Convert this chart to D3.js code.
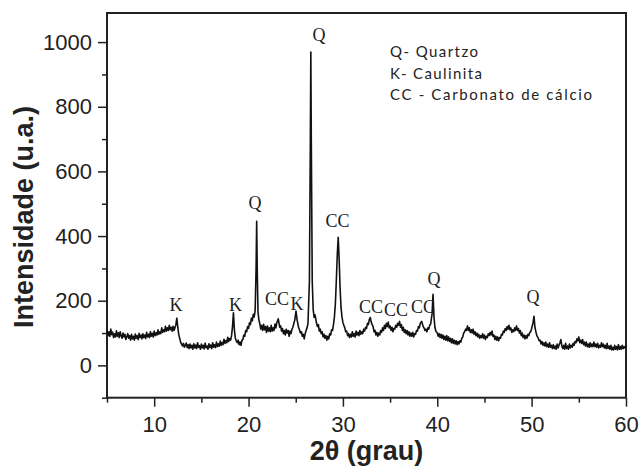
<!DOCTYPE html>
<html>
<head>
<meta charset="utf-8">
<script src="https://cdn.jsdelivr.net/npm/d3@7"></script>
<style>
  body { margin: 0; background: #fff; }
  svg { display: block; }
</style>
</head>
<body>
<svg width="643" height="467"></svg>
<script>
// diffractogram: [2theta, intensity]
var pattern = [
  [5.0,108],[5.1,92],[5.2,104],[5.3,90],[5.4,112],[5.5,95],[5.6,103],[5.7,86],[5.8,98],[5.9,88],
  [6.0,107],[6.1,90],[6.2,101],[6.3,86],[6.4,104],[6.5,92],[6.6,84],[6.7,100],[6.8,88],[6.9,96],
  [7.0,80],[7.2,98],[7.3,84],[7.4,92],[7.5,78],[7.6,96],[7.7,82],[7.8,90],[7.9,78],[8.0,97],
  [8.1,84],[8.2,92],[8.3,80],[8.4,99],[8.5,86],[8.6,94],[8.7,82],[8.8,98],[8.9,86],[9.0,94],
  [9.1,83],[9.2,102],[9.3,88],[9.4,96],[9.5,86],[9.6,104],[9.7,90],[9.8,99],[9.9,88],[10.0,106],
  [10.1,92],[10.2,101],[10.3,94],[10.4,110],[10.5,96],[10.6,104],[10.7,98],[10.8,116],[10.9,102],[11.0,110],
  [11.1,104],[11.2,121],[11.3,106],[11.4,116],[11.5,108],[11.6,124],[11.7,110],[11.8,118],[11.9,106],[12.0,121],
  [12.1,108],[12.2,116],[12.3,126],[12.4,146],[12.5,118],[12.6,96],[12.7,84],[12.8,72],[12.9,66],[13.0,60],
  [13.1,68],[13.2,56],[13.4,69],[13.5,55],[13.6,64],[13.7,52],[13.8,66],[13.9,54],[14.0,62],[14.1,50],
  [14.2,67],[14.3,54],[14.4,63],[14.5,52],[14.6,70],[14.7,56],[14.8,61],[14.9,50],[15.0,66],[15.1,54],
  [15.2,62],[15.3,51],[15.4,69],[15.5,55],[15.6,60],[15.7,50],[15.8,67],[15.9,55],[16.0,63],[16.1,52],
  [16.2,70],[16.3,56],[16.4,64],[16.5,55],[16.6,72],[16.7,58],[16.8,67],[16.9,59],[17.0,75],[17.1,62],
  [17.2,71],[17.3,64],[17.4,81],[17.5,68],[17.6,77],[17.7,70],[17.8,87],[17.9,74],[18.0,83],[18.1,78],
  [18.2,92],[18.3,120],[18.4,163],[18.5,110],[18.6,84],[18.7,76],[18.8,70],[18.9,78],[19.0,64],[19.1,72],
  [19.2,62],[19.3,78],[19.4,80],[19.5,94],[19.6,90],[19.7,108],[19.8,104],[19.9,120],[20.0,114],[20.1,132],
  [20.2,126],[20.3,146],[20.4,138],[20.5,158],[20.6,150],[20.7,170],[20.8,300],[20.86,446],[20.92,300],[21.0,165],
  [21.1,140],[21.2,128],[21.3,112],[21.4,124],[21.5,108],[21.6,127],[21.7,110],[21.8,120],[21.9,102],[22.0,122],
  [22.1,106],[22.2,116],[22.3,104],[22.4,124],[22.5,106],[22.6,116],[22.7,108],[22.8,128],[22.9,116],[23.0,132],
  [23.15,144],[23.3,118],[23.4,122],[23.5,106],[23.6,114],[23.7,98],[23.8,108],[23.9,94],[24.0,112],[24.1,100],
  [24.2,108],[24.3,90],[24.4,106],[24.5,98],[24.6,112],[24.7,118],[24.8,130],[24.9,140],[25.03,168],[25.15,140],
  [25.3,118],[25.4,110],[25.5,100],[25.6,104],[25.7,90],[25.8,96],[25.9,82],[26.0,98],[26.1,108],[26.2,116],
  [26.3,130],[26.45,260],[26.55,700],[26.6,969],[26.65,700],[26.75,260],[26.85,173],[26.95,148],[27.05,156],[27.2,131],
  [27.3,120],[27.4,126],[27.5,106],[27.6,112],[27.7,98],[27.8,104],[27.9,88],[28.0,96],[28.1,84],[28.2,92],
  [28.3,78],[28.4,90],[28.5,82],[28.6,98],[28.7,94],[28.8,110],[28.9,108],[29.0,126],[29.1,150],[29.2,190],
  [29.3,260],[29.4,340],[29.5,396],[29.6,330],[29.7,240],[29.8,180],[29.9,150],[30.0,133],[30.1,124],[30.2,116],
  [30.3,104],[30.4,106],[30.5,92],[30.6,98],[30.7,86],[30.8,96],[30.9,88],[31.0,104],[31.1,90],[31.2,98],
  [31.3,88],[31.4,106],[31.5,94],[31.6,102],[31.7,92],[31.8,108],[31.9,96],[32.0,104],[32.1,98],[32.2,112],
  [32.3,106],[32.4,118],[32.5,114],[32.6,130],[32.7,126],[32.8,142],[32.9,148],[33.0,134],[33.1,126],[33.2,120],
  [33.3,104],[33.4,108],[33.5,94],[33.6,102],[33.7,90],[33.8,100],[33.9,94],[34.0,108],[34.1,102],[34.2,116],
  [34.3,108],[34.4,124],[34.5,114],[34.6,130],[34.7,120],[34.8,134],[34.9,116],[35.0,122],[35.1,108],[35.2,118],
  [35.3,104],[35.4,114],[35.5,112],[35.6,124],[35.7,118],[35.8,130],[35.9,124],[36.0,136],[36.1,118],[36.2,126],
  [36.3,108],[36.4,118],[36.5,102],[36.6,110],[36.7,98],[36.8,108],[36.9,94],[37.0,104],[37.1,90],[37.2,100],
  [37.3,90],[37.4,102],[37.5,88],[37.6,98],[37.7,96],[37.8,108],[37.9,106],[38.0,120],[38.1,116],[38.2,130],
  [38.35,136],[38.5,120],[38.6,116],[38.7,108],[38.8,112],[38.9,104],[39.0,116],[39.1,112],[39.2,124],[39.3,128],
  [39.45,160],[39.55,220],[39.65,150],[39.75,118],[39.85,106],[40.0,100],[40.1,90],[40.2,98],[40.3,86],[40.4,96],
  [40.5,84],[40.6,94],[40.7,80],[40.8,90],[40.9,78],[41.0,92],[41.1,76],[41.2,88],[41.3,74],[41.4,84],
  [41.5,70],[41.6,82],[41.7,68],[41.8,78],[41.9,66],[42.0,76],[42.1,64],[42.2,74],[42.3,66],[42.4,76],
  [42.5,72],[42.6,84],[42.7,88],[42.8,100],[42.9,104],[43.0,112],[43.1,108],[43.2,122],[43.3,108],[43.4,116],
  [43.5,102],[43.6,110],[43.7,100],[43.8,112],[43.9,96],[44.0,104],[44.1,92],[44.2,100],[44.3,88],[44.4,96],
  [44.5,84],[44.6,92],[44.7,86],[44.8,98],[44.9,84],[45.0,94],[45.1,80],[45.2,90],[45.3,86],[45.4,98],
  [45.5,92],[45.6,102],[45.7,94],[45.8,106],[45.9,90],[46.0,94],[46.1,80],[46.2,90],[46.3,78],[46.4,88],
  [46.5,76],[46.6,86],[46.7,84],[46.8,96],[46.9,94],[47.0,106],[47.1,102],[47.2,114],[47.3,108],[47.4,120],
  [47.5,112],[47.6,124],[47.7,110],[47.8,116],[47.9,102],[48.0,110],[48.1,104],[48.2,116],[48.3,108],[48.4,122],
  [48.5,108],[48.6,114],[48.7,100],[48.8,108],[48.9,92],[49.0,100],[49.1,86],[49.2,94],[49.3,82],[49.4,92],
  [49.5,84],[49.6,96],[49.7,92],[49.8,102],[49.9,104],[50.0,114],[50.15,132],[50.25,152],[50.35,118],[50.45,104],
  [50.55,92],[50.7,84],[50.8,76],[50.9,78],[51.0,66],[51.1,74],[51.2,62],[51.3,70],[51.4,60],[51.5,72],
  [51.6,58],[51.7,66],[51.8,56],[51.9,70],[52.0,56],[52.1,62],[52.2,52],[52.3,64],[52.4,52],[52.5,60],
  [52.6,50],[52.7,66],[52.8,54],[52.9,62],[53.0,70],[53.1,80],[53.2,60],[53.3,52],[53.4,62],[53.5,50],
  [53.6,68],[53.7,52],[53.8,60],[53.9,50],[54.0,66],[54.1,54],[54.2,62],[54.3,56],[54.4,68],[54.5,62],
  [54.6,74],[54.7,70],[54.8,82],[54.9,76],[55.0,88],[55.1,70],[55.2,78],[55.3,68],[55.4,80],[55.5,64],
  [55.6,72],[55.7,60],[55.8,72],[55.9,58],[56.0,66],[56.1,56],[56.2,70],[56.3,58],[56.4,66],[56.5,58],
  [56.6,72],[56.7,58],[56.8,66],[56.9,56],[57.0,68],[57.1,54],[57.2,62],[57.3,56],[57.4,70],[57.5,58],
  [57.6,66],[57.7,54],[57.8,62],[57.9,52],[58.0,68],[58.1,52],[58.2,60],[58.3,50],[58.4,62],[58.5,48],
  [58.6,56],[58.7,48],[58.8,62],[58.9,50],[59.0,58],[59.1,48],[59.2,64],[59.3,50],[59.4,58],[59.5,50],
  [59.6,62],[59.7,52],[59.8,58],[59.9,54],[60.0,62]
];

// phase labels over the peaks (anchor in data units)
var peakNames = ["K", "K", "Q", "CC", "K", "Q", "CC", "CC", "CC", "CC", "Q", "Q"];
var peakTheta = [12.31, 18.62, 20.68, 23.02, 25.14, 27.47, 29.43, 32.98, 35.63, 38.49, 39.65, 50.15];
var peakLevel = [168, 168, 484, 187, 171, 1003, 428, 162, 153, 162, 249, 193];

var legendLines = ["Q- Quartzo", "K- Caulinita", "CC - Carbonato de cálcio"];

var xMajor = [10, 20, 30, 40, 50, 60];
var xMinor = [5, 15, 25, 35, 45, 55];
var yMajor = [0, 200, 400, 600, 800, 1000];
var yMinor = [-100, 100, 300, 500, 700, 900];

var svg = d3.select("svg");

var x = d3.scaleLinear().domain([5, 60]).range([107, 626]);
var y = d3.scaleLinear().domain([-100, 1090]).range([397.7, 13]);

var axisFont = "'Liberation Sans', Arial, sans-serif";

// minor ticks first, majors on top
svg.append("g")
    .attr("transform", "translate(0," + y(-100) + ")")
    .call(d3.axisBottom(x).tickValues(xMinor).tickSize(5).tickFormat(""));

svg.append("g")
    .attr("transform", "translate(" + x(5) + ",0)")
    .call(d3.axisLeft(y).tickValues(yMinor).tickSize(5).tickFormat(""));

svg.append("g")
    .attr("transform", "translate(0," + y(-100) + ")")
    .call(d3.axisBottom(x).tickValues(xMajor).tickSize(9).tickPadding(10).tickFormat(d3.format("d")));

svg.append("g")
    .attr("transform", "translate(" + x(5) + ",0)")
    .call(d3.axisLeft(y).tickValues(yMajor).tickSize(9).tickPadding(6).tickFormat(d3.format("d")));

svg.selectAll(".domain").remove();
svg.selectAll(".tick line").attr("stroke", "#222").attr("stroke-width", 1.5);
svg.selectAll(".tick text")
    .attr("fill", "#222")
    .style("font-family", axisFont)
    .style("font-size", "22px");

// frame
svg.append("rect")
    .attr("x", x(5))
    .attr("y", y(1090))
    .attr("width", x(60) - x(5))
    .attr("height", y(-100) - y(1090))
    .attr("fill", "none")
    .attr("stroke", "#222")
    .attr("stroke-width", 2);

var line = d3.line()
    .x(function(d) { return x(d[0]); })
    .y(function(d) { return y(d[1]); });

svg.append("path")
    .datum(pattern)
    .attr("d", line)
    .attr("fill", "none")
    .attr("stroke", "#111")
    .attr("stroke-width", 1.6)
    .attr("stroke-linejoin", "round");

svg.selectAll(".peak")
    .data(peakNames)
    .enter().append("text")
    .attr("class", "peak")
    .attr("x", function(d, i) { return x(peakTheta[i]); })
    .attr("y", function(d, i) { return y(peakLevel[i]); })
    .attr("text-anchor", "middle")
    .style("font-family", "'Liberation Serif', 'Times New Roman', serif")
    .style("font-size", "18px")
    .attr("fill", "#222")
    .text(function(d) { return d; });

var legendWidths = [88, 92, 202];
svg.selectAll(".legend")
    .data(legendLines)
    .enter().append("text")
    .attr("class", "legend")
    .attr("x", 390)
    .attr("y", function(d, i) { return 57 + i * 21.5; })
    .attr("textLength", function(d, i) { return legendWidths[i]; })
    .attr("lengthAdjust", "spacing")
    .style("font-family", "Lato, 'Open Sans', sans-serif")
    .style("font-size", "15px")
    .attr("fill", "#222")
    .text(function(d) { return d; });

// axis titles
svg.append("text")
    .attr("x", (x(5) + x(60)) / 2)
    .attr("y", 460)
    .attr("text-anchor", "middle")
    .style("font-family", axisFont)
    .style("font-weight", "bold")
    .style("font-size", "27px")
    .attr("fill", "#222")
    .text("2θ (grau)");

svg.append("text")
    .attr("transform", "translate(33,217) rotate(-90)")
    .attr("text-anchor", "middle")
    .style("font-family", axisFont)
    .style("font-weight", "bold")
    .style("font-size", "27px")
    .attr("fill", "#222")
    .text("Intensidade (u.a.)");
</script>
</body>
</html>
